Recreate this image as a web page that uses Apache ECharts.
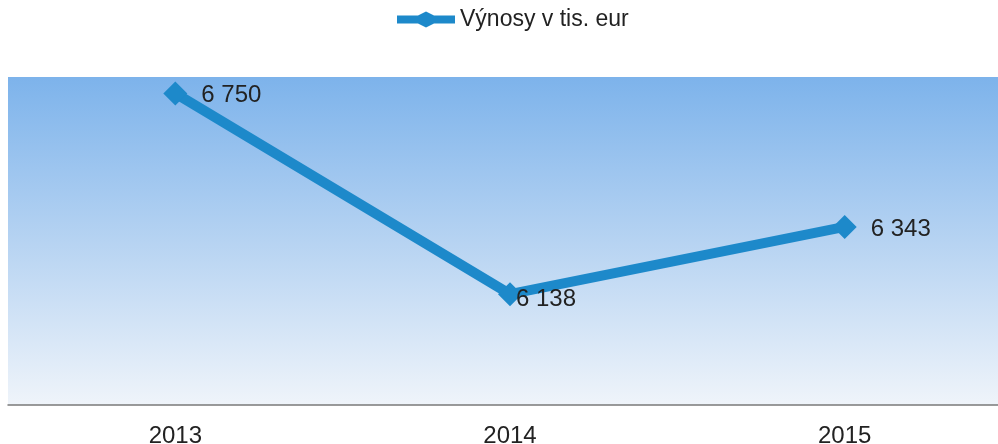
<!DOCTYPE html>
<html lang="sk">
<head>
    <meta charset="UTF-8">
    <title>Výnosy</title>
    <script type="text/javascript" src="https://cdn.jsdelivr.net/npm/echarts@6/dist/echarts.min.js"></script>
    <style>
        html, body { margin: 0; padding: 0; background: #ffffff; overflow: hidden; }
        /* graf v predlohe presahuje pravý okraj, preto je kontajner širší */
        #main { width: 1012px; height: 444px; }
    </style>
</head>
<body>
    <div id="main"></div>
<script type="text/javascript">
    // rok a výnosy v tis. eur
    var years = ['2013', '2014', '2015'];
    var revenue = [6750, 6138, 6343];
    var seriesName = 'Výnosy v tis. eur';

    var myChart = echarts.init(document.getElementById('main'));

    // medzera tisícov ako v predlohe: 6 750
    function fmt(v) {
        return String(v).replace(/\B(?=(\d{3})+(?!\d))/g, ' ');
    }

    // popisok pri 2014 je v predlohe posunutý cez bod
    var points = revenue.map(function (v, i) {
        if (i === 1) {
            return { value: v, label: { offset: [-20, 5] } };
        }
        return { value: v, label: { offset: [0, 2] } };
    });

    var option = {
        animation: false,
        backgroundColor: '#ffffff',
        textStyle: { fontFamily: 'Liberation Sans, Arial, sans-serif' },
        legend: {
            top: 3,
            left: 392,
            itemWidth: 58,
            itemHeight: 16,
            itemGap: 2,
            textStyle: { fontSize: 23, color: '#222' },
            data: [{
                name: seriesName,
                // hrubá čiara s kosoštvorcom
                icon: 'path://M0,4 L21,4 L29,0 L37,4 L58,4 L58,12 L37,12 L29,16 L21,12 L0,12 Z'
            }]
        },
        grid: {
            left: 8,
            right: 0,
            top: 77,
            bottom: 39,
            outerBoundsMode: 'none',
            show: true,
            borderWidth: 0,
            backgroundColor: {
                type: 'linear', x: 0, y: 0, x2: 0, y2: 1,
                colorStops: [
                    { offset: 0, color: '#7db3eb' },
                    { offset: 0.5, color: '#b6d3f2' },
                    { offset: 1, color: '#eff4fa' }
                ]
            }
        },
        xAxis: {
            type: 'category',
            data: years,
            boundaryGap: true,
            axisLine: { lineStyle: { color: '#7a7a7a', width: 1.5 } },
            axisTick: { show: false },
            axisLabel: { fontSize: 24, color: '#222', margin: 19 }
        },
        yAxis: {
            type: 'value',
            min: 5800,
            max: 6800,
            show: false,
            splitLine: { show: false }
        },
        series: [{
            name: seriesName,
            type: 'line',
            data: points,
            color: '#1d89ca',
            lineStyle: { width: 10, color: '#1d89ca' },
            symbol: 'diamond',
            symbolSize: 24,
            itemStyle: { color: '#1d89ca' },
            label: {
                show: true,
                position: 'right',
                distance: 14,
                fontSize: 24,
                color: '#222',
                formatter: function (p) { return fmt(p.value); }
            }
        }]
    };
    myChart.setOption(option);
</script>
</body>
</html>
